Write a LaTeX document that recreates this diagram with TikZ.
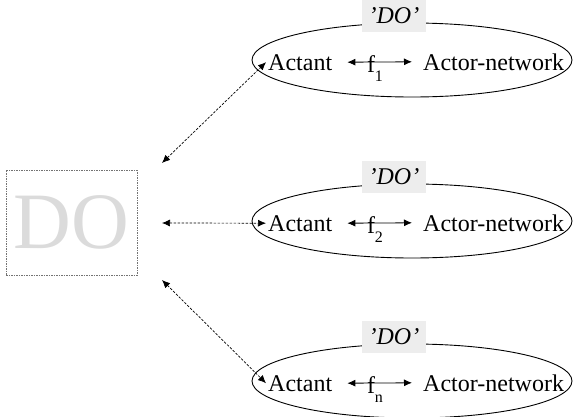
\documentclass[tikz,border=0pt]{standalone}
\usepackage{fontspec}
\setmainfont{Liberation Serif}
\usetikzlibrary{shapes.geometric,arrows.meta}
\tikzset{
  txt/.style={inner sep=0pt, font=\fontsize{24}{28}\selectfont},
  ell/.style={draw, line width=0.9pt, ellipse, minimum width=320pt, minimum height=74pt, inner sep=0pt},
  lbl/.style={fill=black!7, inner xsep=7pt, inner ysep=8pt, font=\fontsize{24}{28}\selectfont\itshape},
  rel/.style={line width=0.8pt, {Latex[length=8pt,width=7pt]}-{Latex[length=8pt,width=7pt]}},
  link/.style={line width=0.7pt, dash pattern=on 2.5pt off 1.5pt, {Latex[length=8pt,width=7pt]}-{Latex[length=8pt,width=7pt]}},
  dobox/.style={draw=black!55, line width=0.7pt, dash pattern=on 1.5pt off 1pt, minimum width=131pt, minimum height=105pt, inner sep=0pt,
     font=\fontsize{80}{80}\selectfont, text=black!14}
}
\newcommand{\fsub}[1]{f\raisebox{-0.38em}{\fontsize{16}{16}\selectfont #1}}
\begin{document}
\begin{tikzpicture}[x=1pt,y=-1pt]
\useasboundingbox (0,0) rectangle (582,416);
\node[dobox] (do) at (71.5,222.5) {DO};
% groups
\foreach \i/\cy/\s in {1/60/1, 2/221/2, 3/381/n}{
  \node[ell] (e\i) at (412,\cy) {};
  \node[lbl] (l\i) at (394,\cy-44) {’DO’};
  \node[txt, anchor=base west] (a\i) at (268,\cy+10) {Actant};
  \node[txt, anchor=base west] (n\i) at (423,\cy+10) {Actor-network};
  \draw[rel] ([xshift=15pt]a\i.east) -- ([xshift=-11pt]n\i.west);
  \node[txt, anchor=base] (f\i) at (375,\cy+12) {\fsub{\s}};
}
\coordinate (p1) at (162,163);
\coordinate (p2) at (162,223);
\coordinate (p3) at (162,280);
\draw[link] (p1) -- ([xshift=-2pt]a1.west);
\draw[link] (p2) -- ([xshift=-2pt]a2.west);
\draw[link] (p3) -- ([xshift=-2pt]a3.west);
\end{tikzpicture}
\end{document}
